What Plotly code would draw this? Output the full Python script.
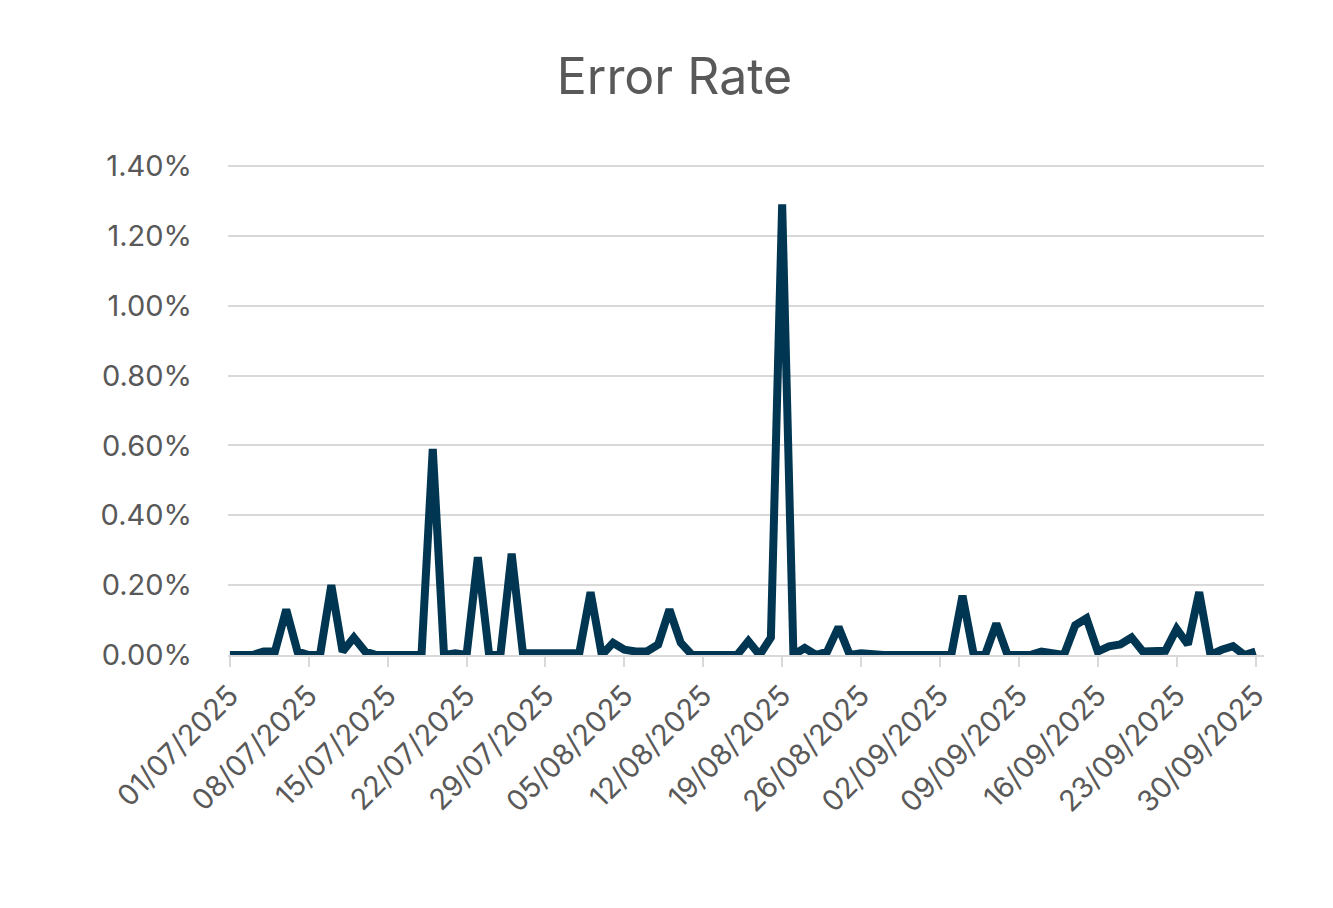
import plotly.graph_objects as go
import pandas as pd

dates = pd.date_range("2025-07-01", "2025-09-30", freq="D")
error_rate = [
    0, 0, 0, 0.01, 0.01, 0.13, 0.01, 0, 0, 0.20,
    0.01, 0.05, 0.01, 0, 0, 0, 0, 0, 0.59, 0,
    0.005, 0, 0.28, 0, 0, 0.29, 0.005, 0.005, 0, 0.002,
    0.005, 0.005, 0.18, 0, 0.035, 0.015, 0.01, 0.01, 0.03, 0.13,
    0.035, 0, 0, 0, 0, 0, 0.04, 0, 0.05, 1.29,
    0, 0.02, 0, 0.01, 0.08, 0, 0.005, 0, 0, 0,
    0, 0.005, 0, 0, 0, 0.17, 0, 0, 0.09, 0,
    0, 0, 0.01, 0.005, 0, 0.085, 0.105, 0.01, 0.025, 0.03,
    0.05, 0.01, 0.012, 0.012, 0.075, 0.03, 0.18, 0, 0.015, 0.025,
    0, 0.01,
]
tick_vals = pd.date_range("2025-07-01", "2025-09-30", freq="7D")
tick_text = [d.strftime("%d/%m/%Y") for d in tick_vals]
y_ticks = [0, 0.2, 0.4, 0.6, 0.8, 1.0, 1.2, 1.4]

fig = go.Figure(go.Scatter(
    x=dates, y=[v / 100 for v in error_rate], mode="lines",
    line=dict(color="#003651", width=8), hoverinfo="skip"))

grey = "#595959"
fig.update_layout(
    width=1333, height=908,
    paper_bgcolor="white", plot_bgcolor="white",
    margin=dict(l=220, r=77, t=157, b=261),
    font=dict(family="Inter, DejaVu Sans", color=grey, size=29),
    title=dict(text="Error Rate", x=0.5, xanchor="center", y=0.925, yanchor="middle",
               font=dict(size=50, color=grey)),
    showlegend=False,
)
fig.update_xaxes(
    range=[pd.Timestamp("2025-07-01") - pd.Timedelta(hours=4),
           pd.Timestamp("2025-09-30") + pd.Timedelta(hours=18)],
    tickvals=tick_vals, ticktext=tick_text, tickangle=-45,
    showgrid=False, showline=True, linecolor="#d9d9d9", linewidth=2,
    ticks="outside", tickcolor="#d9d9d9", ticklen=10, tickwidth=2,
)
fig.update_yaxes(
    range=[0, 0.01403], tickvals=[v / 100 for v in y_ticks],
    ticktext=[f"{v:.2f}%" for v in y_ticks],
    showgrid=True, gridcolor="#d9d9d9", gridwidth=2, zeroline=False,
    ticks="", ticklabelstandoff=35,
)
fig.write_html("out.html")
